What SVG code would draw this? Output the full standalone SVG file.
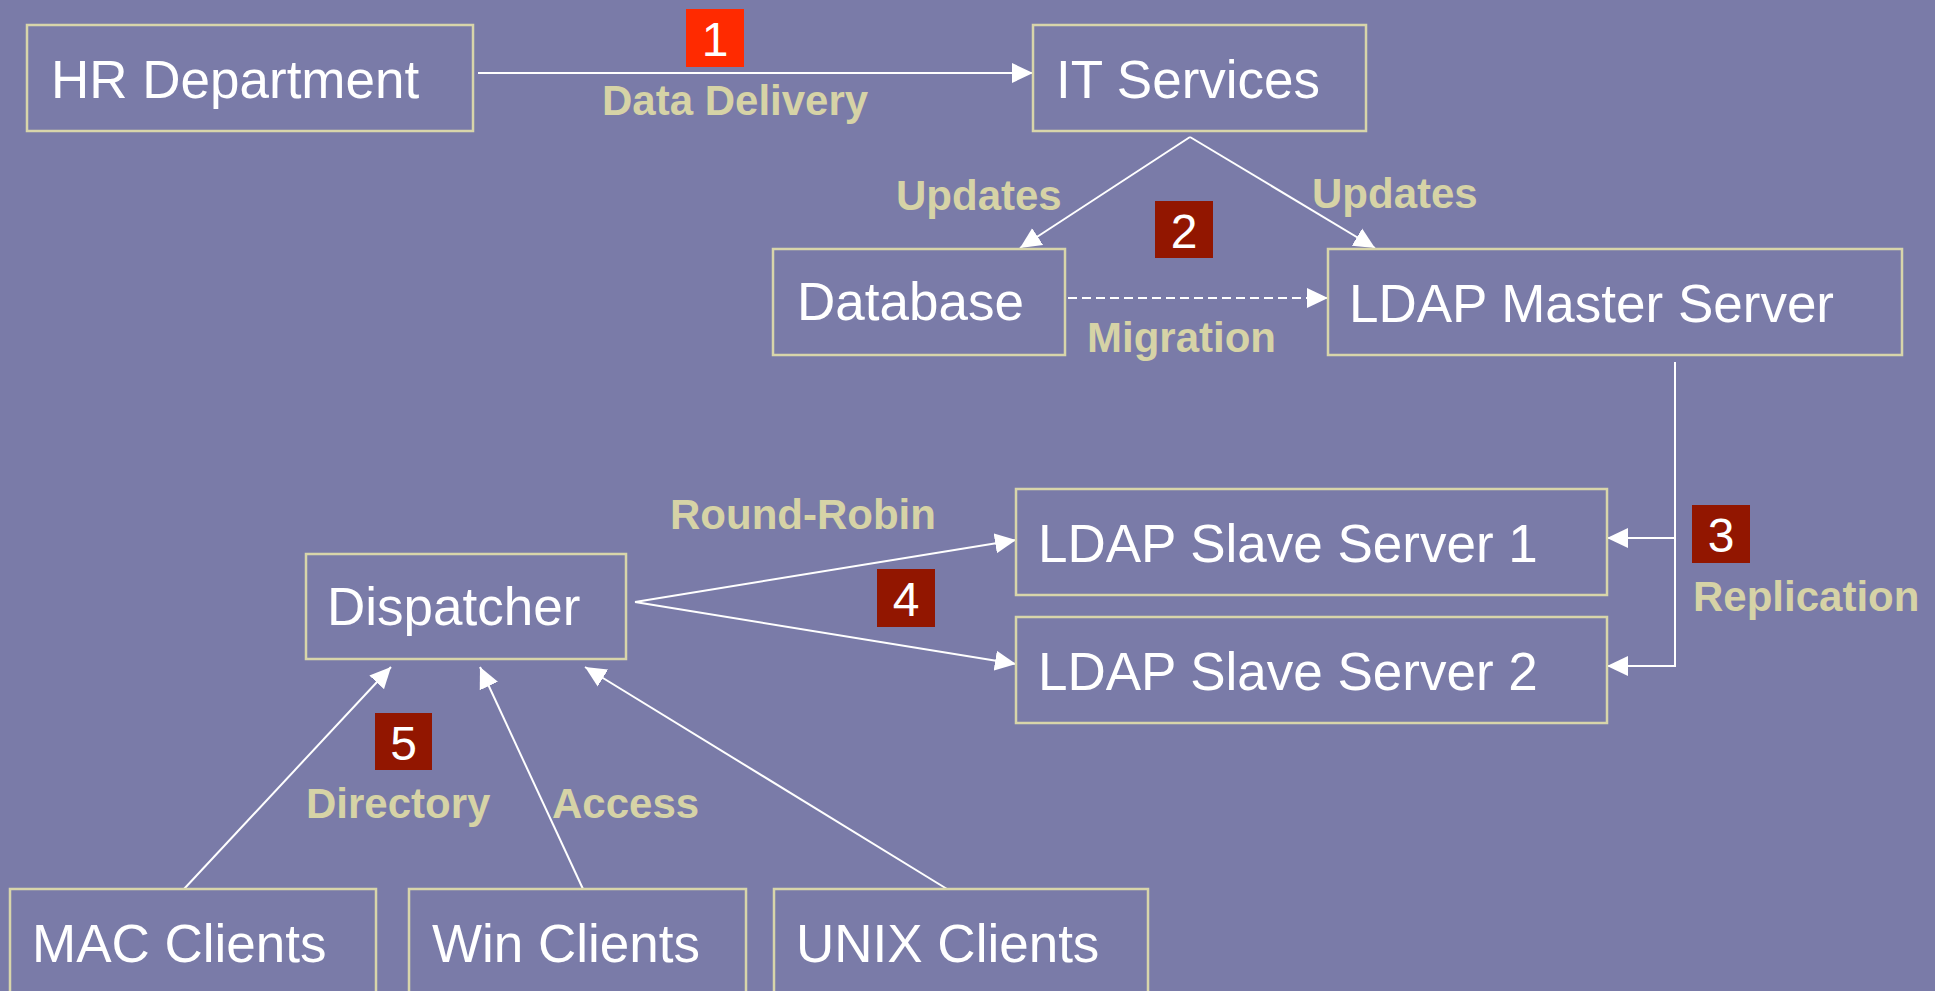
<svg xmlns="http://www.w3.org/2000/svg" width="1935" height="991" viewBox="0 0 1935 991">
  <style>
    .box { fill: none; stroke: #D8D5AA; stroke-width: 2.5; }
    .node-text { font-family: "Liberation Sans", Arial, sans-serif; font-size: 53px; fill: #FFFFFF; }
    .label { font-family: "Liberation Sans", Arial, sans-serif; font-size: 42px; font-weight: bold; fill: #D6D3A6; }
    .badge-text { font-family: "Liberation Sans", Arial, sans-serif; font-size: 48px; fill: #FFFFFF; text-anchor: middle; }
    .badge { fill: #921600; }
    .badge-hot { fill: #FF2A00; }
    .edge { fill: none; stroke: #FFFFFF; stroke-width: 2; }
    .dashed { stroke-dasharray: 9 5; }
  </style>
  <defs>
    <marker id="arrow" markerUnits="userSpaceOnUse" markerWidth="22" markerHeight="22" viewBox="0 0 22 22" refX="21" refY="11" orient="auto">
      <path d="M0,1 L21,11 L0,21 z" fill="#FFFFFF"/>
    </marker>
  </defs>

  <rect width="1935" height="991" fill="#7A7BA8"/>

  <!-- connectors -->
  <g id="connectors">
    <line class="edge" x1="478" y1="73" x2="1033" y2="73" marker-end="url(#arrow)"/>
    <line class="edge" x1="1190" y1="137" x2="1020" y2="248" marker-end="url(#arrow)"/>
    <line class="edge" x1="1190" y1="137" x2="1375" y2="248" marker-end="url(#arrow)"/>
    <line class="edge dashed" x1="1068" y1="298" x2="1328" y2="298" marker-end="url(#arrow)"/>
    <polyline class="edge" points="1675,362 1675,666 1607,666" marker-end="url(#arrow)"/>
    <line class="edge" x1="1675" y1="538" x2="1607" y2="538" marker-end="url(#arrow)"/>
    <line class="edge" x1="635" y1="602" x2="1016" y2="540" marker-end="url(#arrow)"/>
    <line class="edge" x1="635" y1="602" x2="1016" y2="664" marker-end="url(#arrow)"/>
    <line class="edge" x1="184" y1="889" x2="391" y2="667" marker-end="url(#arrow)"/>
    <line class="edge" x1="583" y1="889" x2="480" y2="667" marker-end="url(#arrow)"/>
    <line class="edge" x1="947" y1="889" x2="585" y2="667" marker-end="url(#arrow)"/>
  </g>

  <!-- connector labels -->
  <g id="labels">
    <text class="label" x="602" y="115">Data Delivery</text>
    <text class="label" x="896" y="210">Updates</text>
    <text class="label" x="1312" y="208">Updates</text>
    <text class="label" x="1087" y="352">Migration</text>
    <text class="label" x="1693" y="611">Replication</text>
    <text class="label" x="670" y="529">Round-Robin</text>
    <text class="label" x="306" y="818">Directory</text>
    <text class="label" x="552" y="818">Access</text>
  </g>

  <!-- step badges -->
  <g id="badge-1">
    <rect class="badge-hot" x="686" y="9" width="58" height="58"/>
    <text class="badge-text" x="715" y="56">1</text>
  </g>
  <g id="badge-2">
    <rect class="badge" x="1155" y="201" width="58" height="57"/>
    <text class="badge-text" x="1184" y="248">2</text>
  </g>
  <g id="badge-3">
    <rect class="badge" x="1692" y="505" width="58" height="58"/>
    <text class="badge-text" x="1721" y="552">3</text>
  </g>
  <g id="badge-4">
    <rect class="badge" x="877" y="569" width="58" height="58"/>
    <text class="badge-text" x="906" y="616">4</text>
  </g>
  <g id="badge-5">
    <rect class="badge" x="375" y="713" width="57" height="57"/>
    <text class="badge-text" x="403.5" y="760">5</text>
  </g>

  <!-- nodes -->
  <g id="hr-department">
    <rect class="box" x="27" y="25" width="446" height="106"/>
    <text class="node-text" x="51" y="98">HR Department</text>
  </g>
  <g id="it-services">
    <rect class="box" x="1033" y="25" width="333" height="106"/>
    <text class="node-text" x="1056" y="98">IT Services</text>
  </g>
  <g id="database">
    <rect class="box" x="773" y="249" width="292" height="106"/>
    <text class="node-text" x="797" y="320">Database</text>
  </g>
  <g id="ldap-master">
    <rect class="box" x="1328" y="249" width="574" height="106"/>
    <text class="node-text" x="1349" y="322">LDAP Master Server</text>
  </g>
  <g id="ldap-slave-1">
    <rect class="box" x="1016" y="489" width="591" height="106"/>
    <text class="node-text" x="1038" y="562">LDAP Slave Server 1</text>
  </g>
  <g id="ldap-slave-2">
    <rect class="box" x="1016" y="617" width="591" height="106"/>
    <text class="node-text" x="1038" y="690">LDAP Slave Server 2</text>
  </g>
  <g id="dispatcher">
    <rect class="box" x="306" y="554" width="320" height="105"/>
    <text class="node-text" x="327" y="625">Dispatcher</text>
  </g>
  <g id="mac-clients">
    <rect class="box" x="10" y="889" width="366" height="130"/>
    <text class="node-text" x="32" y="962">MAC Clients</text>
  </g>
  <g id="win-clients">
    <rect class="box" x="409" y="889" width="337" height="130"/>
    <text class="node-text" x="432" y="962">Win Clients</text>
  </g>
  <g id="unix-clients">
    <rect class="box" x="774" y="889" width="374" height="130"/>
    <text class="node-text" x="796" y="962">UNIX Clients</text>
  </g>
</svg>
